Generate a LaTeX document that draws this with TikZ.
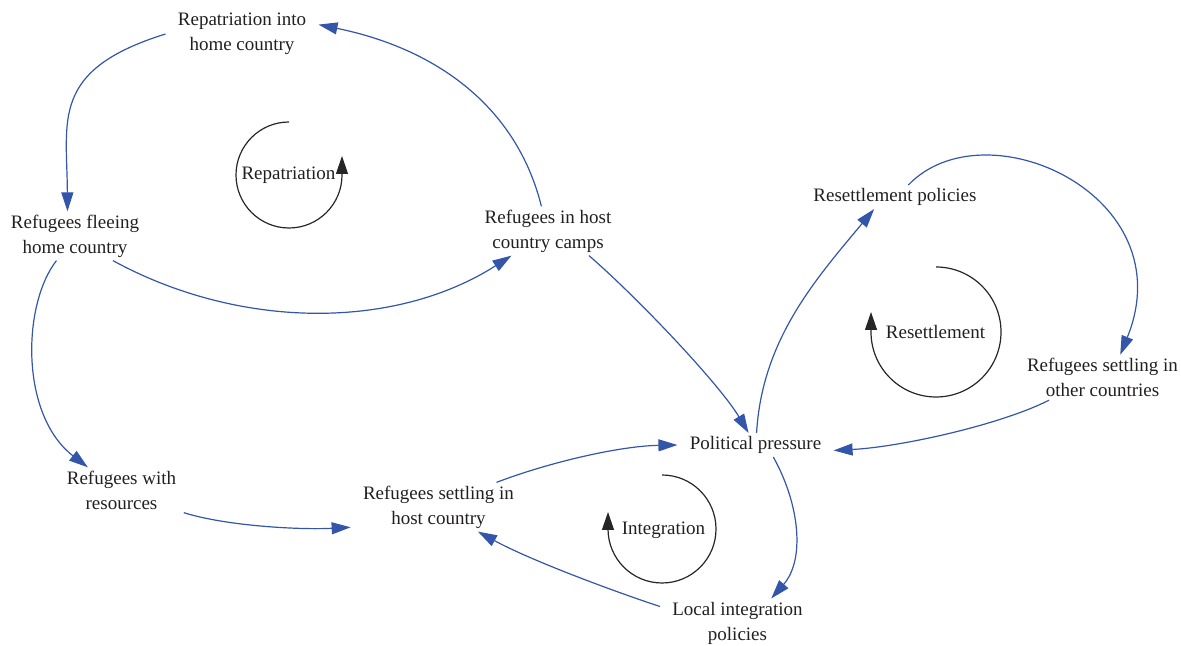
\documentclass[tikz,border=0pt]{standalone}
\usepackage{fontspec}
\setmainfont{Liberation Serif}
\usetikzlibrary{arrows.meta}
\definecolor{linkblue}{RGB}{51,85,170}
\definecolor{textgray}{RGB}{35,31,32}

\begin{document}
\begin{tikzpicture}[x=0.5pt,y=0.5pt,
    var/.style={align=center,inner xsep=6pt,inner ysep=1.5pt,text=textgray,
      font=\fontsize{9.5}{12.5}\selectfont},
    link/.style={draw=linkblue,line width=0.6pt,-{Triangle[length=9.5pt,width=6pt]}},
    loopname/.style={inner sep=0pt,text=textgray,font=\fontsize{9.5}{12.5}\selectfont},
    looparc/.style={draw=black!85,line width=0.6pt,-{Triangle[length=9pt,width=6pt]}}]
        \useasboundingbox (0,0) rectangle (1181,646);

        \node[var] (rep) at (242,612) {Repatriation into\\home country};
        \node[var] (flee) at (75,410) {Refugees fleeing\\home country};
        \node[var] (camps) at (548,415) {Refugees in host\\country camps};
        \node[var] (res) at (121.5,156) {Refugees with\\resources};
        \node[var] (host) at (438.5,139) {Refugees settling in\\host country};
        \node[var] (pol) at (755.5,201) {Political pressure};
        \node[var] (resp) at (895,449) {Resettlement policies};
        \node[var] (other) at (1102.5,268.5) {Refugees settling in\\other countries};
        \node[var] (local) at (737.5,23) {Local integration\\policies};

        \node[loopname] (lrep) at (288.5,471) {Repatriation};
        \node[loopname] (lres) at (935.5,314) {Resettlement};
        \node[loopname] (lint) at (663.5,116) {Integration};

        \draw[looparc] (289,524) arc[start angle=90,end angle=360,radius=53] -- ++(0,19);
        \draw[looparc] (936,379) arc[start angle=90,end angle=-180,radius=65] -- ++(0,20);
        \draw[looparc] (662,171) arc[start angle=90,end angle=-180,radius=54] -- ++(0,17);

        \draw[link] (rep.180) .. controls (50,576) and (67,526) .. (flee.107);
        \draw[link] (camps.105) .. controls (517,538) and (438,597) .. (rep.7);
        \draw[link] (flee.-33) .. controls (240,316) and (395,316) .. (camps.214);
        \draw[link] (flee.233) .. controls (22,341) and (20,231) .. (res.146);
        \draw[link] (res.-20) .. controls (226,120) and (300,116) .. (host.193);
        \draw[link] (camps.-31) .. controls (640,346) and (720,261) .. (pol.120);
        \draw[link] (host.23) .. controls (550,184) and (620,200) .. (pol.west);
        \draw[link] (pol.85) .. controls (762,306) and (815,366) .. (resp.210);
        \draw[link] (resp.42) .. controls (985,541) and (1185,451) .. (other.52);
        \draw[link] (other.203) .. controls (1000,221) and (900,199) .. (pol.-4);
        \draw[link] (pol.-34) .. controls (800,141) and (805,86) .. (local.36);
        \draw[link] (local.168) .. controls (610,56) and (530,86) .. (host.-32);
      \end{tikzpicture}
\end{document}
